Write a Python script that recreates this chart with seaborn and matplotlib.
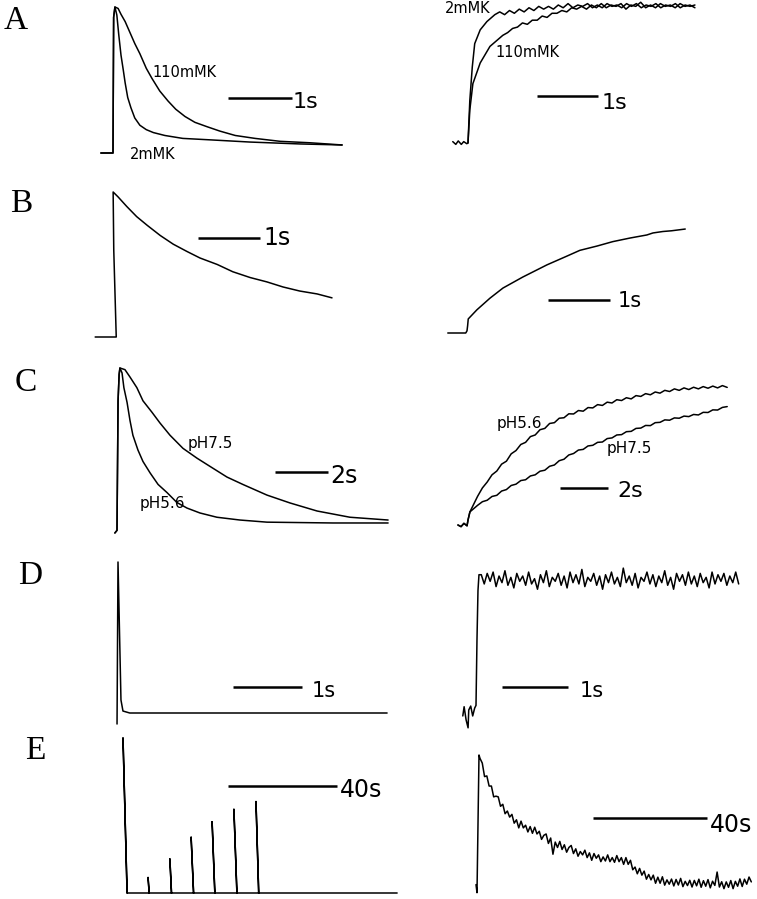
import matplotlib
matplotlib.use('Agg')
import matplotlib.pyplot as plt
import numpy as np
import seaborn as sns

# Traces: time in s from onset, amplitude normalised to the peak

# A, left: decay of the transient
a_left_110_t = [-0.19, 0.0, 0.01, 0.03, 0.08, 0.125, 0.19, 0.27, 0.34, 0.42, 0.52, 0.61, 0.73, 0.86,
                0.98, 1.125, 1.28, 1.47, 1.67, 1.91, 2.22, 2.61, 3.08, 3.58]
a_left_110_y = [0.0, 0.0, 0.93, 1.0, 0.99, 0.95, 0.90, 0.82, 0.75, 0.68, 0.58, 0.51, 0.425, 0.356,
                0.30, 0.25, 0.21, 0.18, 0.15, 0.12, 0.10, 0.08, 0.07, 0.055]
a_left_2_t = [-0.19, 0.0, 0.01, 0.03, 0.06, 0.09, 0.125, 0.16, 0.19, 0.23, 0.28, 0.34, 0.42, 0.52,
              0.63, 0.81, 1.09, 1.52, 2.14, 2.92, 3.58]
a_left_2_y = [0.0, 0.0, 0.93, 1.0, 0.945, 0.81, 0.67, 0.57, 0.48, 0.38, 0.31, 0.24, 0.19, 0.16,
              0.14, 0.12, 0.10, 0.09, 0.075, 0.062, 0.055]

# A, right: recovery
a_right_pre_t = [-0.25, -0.20, -0.16, -0.11, -0.07, -0.02]
a_right_pre_y = [0.01, -0.01, 0.015, -0.01, 0.01, -0.005]
a_right_2_t = [0.0, 0.03, 0.07, 0.11, 0.20, 0.31, 0.44]
a_right_2_y = [0.0, 0.31, 0.55, 0.72, 0.82, 0.88, 0.93]
a_right_2_noisy = [0.95, 0.93, 0.96, 0.94, 0.97, 0.95, 0.98, 0.96, 0.99, 0.97, 0.99, 0.97, 1.00, 0.98,
                   1.01, 0.98, 1.00, 0.99, 1.01, 0.98, 1.00, 0.98, 1.01, 0.99, 1.00, 0.98, 1.01, 0.99,
                   1.01, 0.98, 1.00, 0.99, 1.01, 0.98, 1.00, 0.99, 1.01, 0.98, 1.00, 0.99, 1.00]
a_right_110_t = [0.0, 0.03, 0.08, 0.20, 0.36, 0.57]
a_right_110_y = [0.0, 0.24, 0.43, 0.58, 0.70, 0.78]
a_right_110_noisy = [0.80, 0.83, 0.84, 0.87, 0.86, 0.89, 0.89, 0.92, 0.91, 0.94, 0.94, 0.96, 0.95, 0.98,
                     0.97, 0.99, 0.97, 1.00, 0.98, 1.01, 0.98, 1.00, 0.99, 1.01, 0.97, 1.00, 0.99, 1.02,
                     0.98, 1.00, 0.98, 1.01, 0.99, 1.00, 0.98, 1.01, 0.99, 1.00, 0.98]

# B
b_left_t = [-0.32, 0.02, -0.02, -0.03, 0.05, 0.19, 0.35, 0.52, 0.73, 0.94, 1.16, 1.37, 1.65, 1.90,
            2.18, 2.45, 2.71, 2.98, 3.26, 3.50]
b_left_y = [0.0, 0.0, 0.6, 1.0, 0.966, 0.90, 0.83, 0.77, 0.70, 0.64, 0.59, 0.545, 0.50, 0.45,
            0.41, 0.38, 0.345, 0.317, 0.297, 0.27]
b_right_t = [-0.31, -0.02, 0.0, 0.01, 0.02, 0.16, 0.37, 0.58, 0.90, 1.29, 1.61, 1.82, 2.10, 2.35,
             2.63, 2.90, 3.00, 3.16, 3.30, 3.52]
b_right_y = [0.0, 0.0, 0.015, 0.05, 0.097, 0.16, 0.24, 0.31, 0.386, 0.47, 0.53, 0.57, 0.60, 0.63,
             0.655, 0.676, 0.69, 0.70, 0.705, 0.717]

# C
c_left_rise_t = [-0.08, 0.0, 0.04, 0.08, 0.11]
c_left_rise_y = [-0.006, 0.01, 0.80, 0.96, 1.0]
c_left_75_t = [0.30, 0.49, 0.75, 0.98, 1.32, 1.62, 2.0, 2.49, 3.02, 3.51, 4.15, 4.75, 5.66, 6.53,
               7.55, 8.79, 10.23]
c_left_75_y = [0.99, 0.945, 0.88, 0.80, 0.73, 0.665, 0.59, 0.51, 0.45, 0.40, 0.335, 0.29, 0.225, 0.177,
               0.128, 0.09, 0.073]
c_left_56_t = [0.19, 0.26, 0.38, 0.49, 0.60, 0.79, 0.98, 1.25, 1.55, 1.89, 2.26, 2.64, 3.13, 3.77,
               4.64, 5.66, 8.15, 10.23]
c_left_56_y = [0.97, 0.88, 0.79, 0.68, 0.59, 0.50, 0.43, 0.36, 0.29, 0.24, 0.18, 0.146, 0.116, 0.09,
               0.073, 0.06, 0.055, 0.055]
c_right_pre_t = [-0.42, -0.29, -0.17, -0.04, 0.0, 0.08]
c_right_pre_y = [0.0, -0.01, 0.01, -0.005, 0.03, 0.08]
c_right_56_noisy = [0.175, 0.226, 0.262, 0.306, 0.329, 0.371, 0.389, 0.434, 0.454, 0.491,
                    0.504, 0.539, 0.549, 0.581, 0.589, 0.619, 0.624, 0.651, 0.654, 0.678,
                    0.677, 0.698, 0.694, 0.716, 0.714, 0.734, 0.729, 0.749, 0.744, 0.764,
                    0.759, 0.776, 0.769, 0.789, 0.784, 0.801, 0.794, 0.811, 0.804, 0.821,
                    0.814, 0.830, 0.821, 0.836, 0.826, 0.840, 0.830, 0.844, 0.834, 0.847,
                    0.836, 0.850, 0.839]
c_right_75_noisy = [0.12, 0.142, 0.151, 0.174, 0.181, 0.207, 0.216, 0.241, 0.249, 0.271,
                    0.276, 0.299, 0.306, 0.328, 0.334, 0.358, 0.366, 0.392, 0.401, 0.427,
                    0.436, 0.457, 0.461, 0.482, 0.486, 0.504, 0.506, 0.527, 0.531, 0.549,
                    0.551, 0.569, 0.571, 0.589, 0.591, 0.607, 0.606, 0.624, 0.626, 0.641,
                    0.639, 0.653, 0.651, 0.664, 0.661, 0.674, 0.671, 0.687, 0.686, 0.702,
                    0.701, 0.717, 0.722]

# D
d_left_t = [-0.014, 0.0, 0.043, 0.072, 0.17, 3.90]
d_left_y = [-0.073, 1.0, 0.086, 0.013, 0.0, 0.0]
d_right_pre_t = [-0.20, -0.18, -0.15, -0.12, -0.11, -0.08, -0.05, -0.02]
d_right_pre_y = [-0.03, 0.04, -0.06, -0.12, 0.015, 0.045, -0.03, 0.03]
d_right_rise_t = [0.0, 0.015, 0.03, 0.045]
d_right_rise_y = [0.05, 0.55, 0.92, 1.04]
d_right_noisy = [1.04, 0.97, 1.05, 0.99, 1.06, 0.95, 1.03, 0.98, 1.07, 0.96,
                 1.02, 0.94, 1.05, 0.99, 1.03, 0.96, 1.06, 0.97, 1.01, 0.93,
                 1.04, 0.98, 1.07, 0.95, 1.02, 0.99, 1.05, 0.96, 1.03, 0.94,
                 1.06, 0.98, 1.04, 0.97, 1.08, 0.95, 1.02, 0.99, 1.05, 0.96,
                 1.03, 0.93, 1.04, 0.98, 1.06, 0.97, 1.02, 0.95, 1.09, 0.98,
                 1.03, 0.96, 1.05, 0.94, 1.02, 0.99, 1.06, 0.97, 1.04, 0.95,
                 1.03, 0.98, 1.07, 0.96, 1.02, 0.93, 1.05, 0.99, 1.04, 0.96,
                 1.06, 0.97, 1.03, 0.95, 1.05, 0.98, 1.02, 0.94, 1.06, 0.97,
                 1.04, 0.99, 1.05, 0.96, 1.03, 0.98, 1.06, 0.97]

# E
e_left_spike_t = [0.0, 9.2, 17.2, 25.0, 32.7, 40.7, 48.8]
e_left_spike_y = [1.0, 0.10, 0.22, 0.36, 0.46, 0.54, 0.59]
e_left_fall = [1.5, 0.4, 0.6, 0.9, 1.0, 1.1, 1.0]
e_left_end = 100.6
e_right_start_t = [-0.7, -0.35, 0.35]
e_right_start_y = [0.04, -0.02, 1.0]
e_right_noisy = [0.975, 0.94, 0.84, 0.845, 0.77, 0.77, 0.69, 0.695, 0.69, 0.62,
                 0.635, 0.565, 0.585, 0.54, 0.56, 0.495, 0.52, 0.46, 0.51, 0.46,
                 0.48, 0.43, 0.47, 0.42, 0.465, 0.415, 0.435, 0.375, 0.405, 0.415,
                 0.345, 0.385, 0.265, 0.355, 0.315, 0.36, 0.30, 0.335, 0.28, 0.315,
                 0.33, 0.27, 0.305, 0.25, 0.285, 0.26, 0.295, 0.24, 0.275, 0.22,
                 0.27, 0.235, 0.26, 0.21, 0.245, 0.215, 0.26, 0.21, 0.24, 0.205,
                 0.255, 0.21, 0.24, 0.19, 0.24, 0.19, 0.22, 0.15, 0.17, 0.12,
                 0.16, 0.11, 0.14, 0.08, 0.115, 0.075, 0.11, 0.05, 0.095, 0.05,
                 0.098, 0.036, 0.075, 0.043, 0.081, 0.03, 0.078, 0.037, 0.086, 0.025,
                 0.064, 0.033, 0.072, 0.022, 0.071, 0.031, 0.08, 0.02, 0.069, 0.028,
                 0.077, 0.016, 0.065, 0.034, 0.133, 0.022, 0.061, 0.01, 0.06, 0.02,
                 0.07, 0.01, 0.064, 0.028, 0.082, 0.026, 0.08, 0.043, 0.096, 0.06]

W, H = 757, 899

# panel frames in pixels: box (left, top, right, bottom), onset x, px per s, baseline y, peak height
PANELS = {
    'A_left':  dict(box=(60, 0, 410, 165), x0=113, pps=64, base=153, amp=146),
    'A_right': dict(box=(420, 0, 757, 165), x0=468, pps=61, base=143, amp=138),
    'B_left':  dict(box=(60, 175, 410, 345), x0=115, pps=62, base=337, amp=145),
    'B_right': dict(box=(420, 175, 757, 345), x0=467, pps=62, base=333, amp=145),
    'C_left':  dict(box=(60, 350, 410, 540), x0=117, pps=26.5, base=532, amp=164),
    'C_right': dict(box=(420, 350, 757, 540), x0=468, pps=24, base=525, amp=164),
    'D_left':  dict(box=(60, 550, 410, 732), x0=118, pps=69, base=713, amp=151),
    'D_right': dict(box=(420, 550, 757, 732), x0=476, pps=66, base=712, amp=132),
    'E_left':  dict(box=(60, 732, 410, 899), x0=123, pps=2.725, base=893, amp=155),
    'E_right': dict(box=(420, 732, 757, 899), x0=478, pps=2.85, base=890, amp=135),
}

sns.set_theme(style='white')
plt.rcParams['font.family'] = ['DejaVu Sans']
plt.rcParams['text.color'] = 'black'

fig = plt.figure(figsize=(W / 100, H / 100), dpi=100)
axes = {}
for name, p in PANELS.items():
    left, top, right, bottom = p['box']
    ax = fig.add_axes([left / W, 1 - bottom / H, (right - left) / W, (bottom - top) / H])
    ax.set_xlim((left - p['x0']) / p['pps'], (right - p['x0']) / p['pps'])
    ax.set_ylim((p['base'] - bottom) / p['amp'], (p['base'] - top) / p['amp'])
    ax.set_axis_off()
    axes[name] = ax


def trace(name, t, y, lw=1.1):
    sns.lineplot(x=list(t), y=list(y), ax=axes[name], sort=False, estimator=None,
                 color='black', linewidth=lw, legend=False)


def scale_bar(name, px_left, py, seconds):
    p = PANELS[name]
    t0 = (px_left - p['x0']) / p['pps']
    a = (p['base'] - py) / p['amp']
    axes[name].plot([t0, t0 + seconds], [a, a], color='black', lw=1.8, solid_capstyle='butt')


def label(x, y, s, size, serif=False):
    fam = ['Liberation Serif'] if serif else ['DejaVu Sans']
    fig.text(x / W, 1 - y / H, s, fontsize=size, family=fam, color='black',
             ha='left', va='baseline')


# A
trace('A_left', a_left_110_t, a_left_110_y)
trace('A_left', a_left_2_t, a_left_2_y)
t2 = list(np.linspace(0.52, 3.72, len(a_right_2_noisy)))
trace('A_right', a_right_pre_t + a_right_2_t + t2, a_right_pre_y + a_right_2_y + a_right_2_noisy)
t110 = list(np.linspace(0.65, 3.72, len(a_right_110_noisy)))
trace('A_right', a_right_110_t + t110, a_right_110_y + a_right_110_noisy)

# B
trace('B_left', b_left_t, b_left_y)
trace('B_right', b_right_t, b_right_y)

# C
trace('C_left', c_left_rise_t + c_left_75_t, c_left_rise_y + c_left_75_y)
trace('C_left', c_left_rise_t + c_left_56_t, c_left_rise_y + c_left_56_y)
tc = list(np.linspace(0.4, 10.8, len(c_right_56_noisy)))
trace('C_right', c_right_pre_t + tc, c_right_pre_y + c_right_56_noisy)
trace('C_right', c_right_pre_t + tc, c_right_pre_y + c_right_75_noisy)

# D
trace('D_left', d_left_t, d_left_y)
td = list(np.linspace(0.08, 3.98, len(d_right_noisy)))
trace('D_right', d_right_pre_t + d_right_rise_t + td, d_right_pre_y + d_right_rise_y + d_right_noisy)

# E: pen goes up and back down along the same slanted stroke
et, ey = [], []
for ts, amp, fall in zip(e_left_spike_t, e_left_spike_y, e_left_fall):
    et += [ts + fall, ts, ts + fall]
    ey += [0.0, amp, 0.0]
et.append(e_left_end)
ey.append(0.0)
trace('E_left', et, ey)
te = list(np.linspace(0.7, 95.9, len(e_right_noisy)))
trace('E_right', e_right_start_t + te, e_right_start_y + e_right_noisy)

# scale bars
scale_bar('A_left', 228, 98, 1)
scale_bar('A_right', 537, 96, 1)
scale_bar('B_left', 198, 238, 1)
scale_bar('B_right', 548, 300, 1)
scale_bar('C_left', 275, 472, 2)
scale_bar('C_right', 560, 488, 2)
scale_bar('D_left', 233, 687, 1)
scale_bar('D_right', 502, 687, 1)
scale_bar('E_left', 228, 786, 40)
scale_bar('E_right', 593, 818, 40)

# text
label(4, 29, 'A', 24, serif=True)
label(10, 212, 'B', 24, serif=True)
label(15, 391, 'C', 24, serif=True)
label(18, 584, 'D', 24, serif=True)
label(25, 759, 'E', 24, serif=True)

label(152, 77, '110mMK', 10.5)
label(130, 159, '2mMK', 10.5)
label(293, 108, '1s', 16)
label(445, 13, '2mMK', 10.5)
label(495, 57, '110mMK', 10.5)
label(602, 109, '1s', 16)

label(263, 245, '1s', 17)
label(618, 307, '1s', 15)

label(188, 448, 'pH7.5', 11)
label(140, 508, 'pH5.6', 11)
label(330, 483, '2s', 17)
label(497, 428, 'pH5.6', 11)
label(607, 453, 'pH7.5', 11)
label(617, 497, '2s', 16)

label(312, 697, '1s', 15)
label(580, 697, '1s', 15)

label(340, 797, '40s', 17)
label(710, 832, '40s', 17)

fig.savefig('out.png', dpi=100)
